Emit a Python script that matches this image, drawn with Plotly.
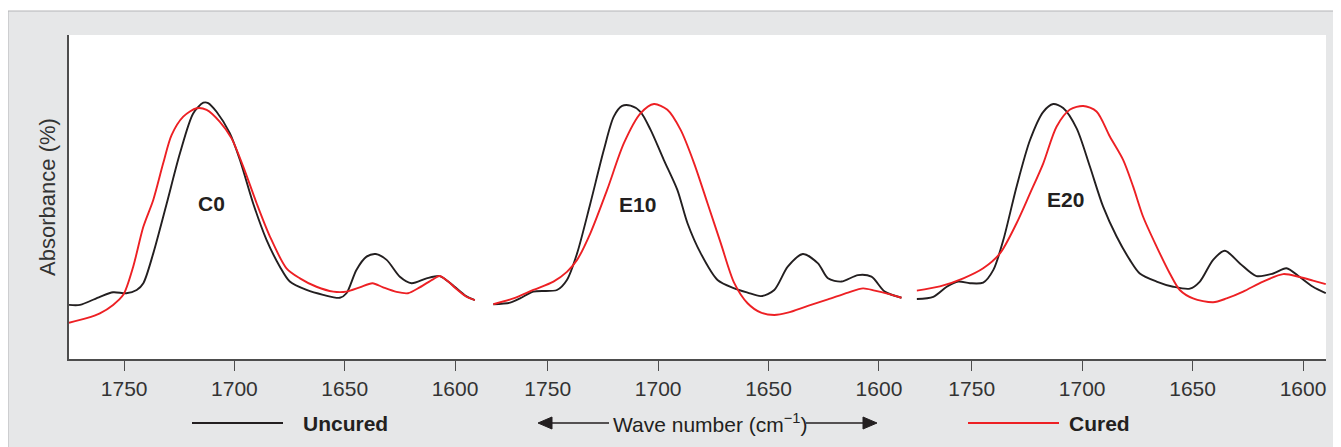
import plotly.graph_objects as go

# ---------------- data ----------------
# C0
c0_uncured_wn = [1775, 1770, 1761, 1755, 1749, 1744.3, 1741.3, 1736.8, 1730.7, 1724.7, 1718.7, 1714.1, 1711.9,
                 1708.1, 1702.1, 1697.5, 1691.5, 1685.4, 1679.4, 1674.9, 1667.3, 1659.8, 1652.2, 1649.2, 1644.7,
                 1640.1, 1635.9, 1631.0, 1625.0, 1619.7, 1612.9, 1606.9, 1603.1, 1600, 1595, 1591]
c0_uncured_abs = [16.7, 16.7, 19.2, 20.6, 20.3, 21.3, 23.4, 32.6, 48.0, 63.5, 75.8, 79.1, 79.0,
                  76.3, 69.7, 61.4, 48.0, 36.7, 28.5, 23.9, 21.3, 19.8, 18.9, 20.3, 27.5,
                  31.6, 32.4, 30.6, 25.4, 23.4, 24.9, 25.6, 23.9, 22.2, 19.4, 18.2]
c0_cured_wn = [1775, 1767, 1761, 1755, 1750.4, 1745.9, 1741.3, 1736.8, 1732.3, 1728.5, 1723.2, 1717.1, 1712.6,
               1706.6, 1701.3, 1696.0, 1689.9, 1683.9, 1676.4, 1670.3, 1662.8, 1655.2, 1649.2, 1643.2, 1637.4,
               1632.6, 1626.5, 1621.3, 1616.0, 1610.0, 1607, 1603.1, 1600, 1595, 1591]
c0_cured_abs = [11.2, 12.6, 14.1, 16.7, 19.8, 28.5, 40.8, 49.1, 60.4, 69.1, 74.8, 77.4, 76.9,
                73.2, 68.1, 59.4, 48.0, 37.8, 28.0, 24.9, 22.3, 20.8, 20.8, 22.1, 23.4,
                22.1, 20.7, 20.3, 22.1, 24.6, 25.6, 23.9, 22.0, 19.3, 18.2]

# E10
e10_uncured_wn = [1774.6, 1767, 1762.5, 1756.5, 1745.8, 1741.3, 1736.7, 1730.7, 1724.6, 1720.1, 1716.3, 1712.5,
                  1708.0, 1703.4, 1697.4, 1691.3, 1686.7, 1680.7, 1673.1, 1665.5, 1659.5, 1653.4, 1647.4, 1641.3,
                  1634.5, 1627.6, 1623.1, 1617, 1609.5, 1603.4, 1597.4, 1589.8]
e10_uncured_abs = [16.9, 17.4, 18.7, 20.8, 21.3, 24.4, 32.6, 48.0, 64.5, 74.8, 78.1, 78.2,
                   76.3, 70.7, 61.4, 52.2, 41.9, 32.6, 24.4, 21.8, 20.5, 19.4, 21.3, 28.5,
                   32.4, 29.5, 24.9, 23.9, 25.9, 25.4, 20.8, 18.9]
e10_cured_wn = [1774.6, 1765.5, 1756.5, 1747.4, 1741.3, 1736.7, 1730.7, 1723.1, 1715.5, 1708, 1701.9, 1695.8,
                1689.8, 1683.7, 1677.6, 1671.6, 1665.5, 1659.5, 1653.4, 1647.4, 1641.3, 1632.2, 1623.1, 1614.0,
                1607.2, 1601.9, 1595.8, 1589.8]
e10_cured_abs = [16.9, 18.7, 21.3, 23.9, 26.9, 30.6, 38.8, 52.2, 66.6, 75.8, 78.7, 76.9,
                 70.7, 60.4, 48.0, 35.7, 23.4, 17.2, 14.3, 13.6, 14.3, 16.4, 18.4, 20.5,
                 21.8, 21.1, 20.1, 18.9]

# E20
e20_uncured_wn = [1774.9, 1767.4, 1761.3, 1756.1, 1750.8, 1744.8, 1740.2, 1735.7, 1729.7, 1723.6, 1717.6, 1713.1,
                  1708.6, 1702.5, 1696.5, 1690.5, 1684.4, 1678.4, 1673.9, 1666.3, 1658.8, 1651.2, 1646.7, 1640.7,
                  1635.4, 1628.6, 1621.1, 1613.5, 1607.5, 1601.5, 1595.5, 1589.7]
e20_uncured_abs = [18.5, 19.2, 22.3, 23.9, 23.4, 23.6, 27.5, 36.7, 53.2, 67.6, 76.3, 78.7,
                   77.5, 71.2, 59.4, 47.0, 37.8, 30.6, 26.4, 23.9, 22.3, 21.7, 23.9, 30.6,
                   33.4, 29.5, 25.6, 26.4, 28.0, 25.3, 22.3, 20.3]
e20_cured_wn = [1774.9, 1764.4, 1753.8, 1744.8, 1737.2, 1729.7, 1723.6, 1717.6, 1711.6, 1705.5, 1699.5, 1693.5,
                1687.4, 1681.4, 1676.9, 1672.4, 1666.3, 1660.3, 1655.8, 1649.8, 1640.7, 1634.6, 1627.1, 1618.1,
                1609.0, 1601.5, 1595.5, 1589.7]
e20_cured_abs = [21.1, 22.4, 24.9, 28.0, 32.6, 41.9, 51.1, 60.4, 71.7, 77.0, 78.1, 76.4,
                 68.6, 61.4, 53.2, 43.9, 34.7, 26.4, 21.3, 18.7, 17.5, 18.7, 20.8, 23.9,
                 26.2, 25.3, 24.2, 23.1]

panel_labels = ["C0", "E10", "E20"]
label_wn = [1710.2, 1709.3, 1707.4]
label_abs = [48.1, 47.8, 49.1]
tick_vals = [1750, 1700, 1650, 1600]
tick_text = ["1750", "1700", "1650", "1600"]
series_names = ["Uncured", "Cured"]

# ---------------- styling ----------------
# the page body has an 8px margin, so the figure is made 8px smaller and
# all screen coordinates below are expressed in window pixels
OFF = 8
SW, SH = 1341, 447
L, R, T, B = 69, 15, 35, 88          # plot area in window px: x 69..1326, y 35..359
PW, PH = SW - L - R, SH - T - B
BLACK = "#231f20"
RED = "#ed2024"
AXIS = "#4d4d4d"
TXT = "#333333"
FONT = "Liberation Sans, Arial, sans-serif"
FS = 21


def px(x):
    return (x - L) / PW


def py(y):
    return (SH - B - y) / PH


domains = [[0, px(492.5)], [px(492.5), px(916.5)], [px(916.5), 1]]
ranges = [[1775, 1583], [1775, 1583], [1775, 1589.6]]

panels = [
    (c0_uncured_wn, c0_uncured_abs, c0_cured_wn, c0_cured_abs),
    (e10_uncured_wn, e10_uncured_abs, e10_cured_wn, e10_cured_abs),
    (e20_uncured_wn, e20_uncured_abs, e20_cured_wn, e20_cured_abs),
]

fig = go.Figure()
for i, (uw, ua, cw, ca) in enumerate(panels):
    xa = "x" if i == 0 else f"x{i + 1}"
    fig.add_trace(go.Scatter(x=uw, y=ua, mode="lines", name=series_names[0], xaxis=xa, yaxis="y",
                             line=dict(color=BLACK, width=1.9, shape="spline", smoothing=0.8),
                             showlegend=False))
    fig.add_trace(go.Scatter(x=cw, y=ca, mode="lines", name=series_names[1], xaxis=xa, yaxis="y",
                             line=dict(color=RED, width=1.9, shape="spline", smoothing=0.8),
                             showlegend=False))

axis_common = dict(
    showline=True, linecolor=AXIS, linewidth=1.6, showgrid=False, zeroline=False,
    ticks="outside", ticklen=10, tickwidth=1.4, tickcolor=AXIS,
    tickvals=tick_vals, ticktext=tick_text,
    tickfont=dict(family=FONT, size=FS, color=TXT),
    fixedrange=True,
)
layout_axes = {}
for i in range(3):
    key = "xaxis" if i == 0 else f"xaxis{i + 1}"
    layout_axes[key] = dict(axis_common, domain=domains[i], range=ranges[i], anchor="y")

fig.update_layout(
    width=SW - OFF, height=SH - OFF,
    margin=dict(l=L - OFF, r=R, t=T - OFF, b=B, pad=0),
    paper_bgcolor="white", plot_bgcolor="rgba(0,0,0,0)",
    showlegend=False,
    font=dict(family=FONT, color=BLACK),
    yaxis=dict(range=[0, 100], showline=True, linecolor=AXIS, linewidth=1.6, showgrid=False,
               zeroline=False, showticklabels=False, ticks="", fixedrange=True,
               title=dict(text="Absorbance (%)", standoff=6,
                          font=dict(family=FONT, size=22, color=TXT))),
    **layout_axes,
)

# background frame and white plotting area
fig.add_shape(type="rect", xref="paper", yref="paper", x0=px(8), x1=px(1360), y0=py(460), y1=py(11),
              fillcolor="#e6e7e8", line=dict(color="#b4b5b7", width=1), layer="below")
fig.add_shape(type="rect", xref="paper", yref="paper", x0=0, x1=1, y0=0, y1=1,
              fillcolor="white", line=dict(width=0), layer="below")

# panel labels
for i, lab in enumerate(panel_labels):
    xa = "x" if i == 0 else f"x{i + 1}"
    fig.add_annotation(x=label_wn[i], y=label_abs[i], xref=xa, yref="y", text=f"<b>{lab}</b>",
                       showarrow=False, font=dict(family=FONT, size=FS, color=BLACK))

# bottom key
KY = 423
ky = py(KY)
fig.add_shape(type="line", xref="paper", yref="paper", x0=px(192), x1=px(283), y0=ky, y1=ky,
              line=dict(color=BLACK, width=2))
fig.add_annotation(x=px(301), y=ky, xref="paper", yref="paper", text=f"<b>{series_names[0]}</b>",
                   showarrow=False, xanchor="left", yanchor="middle",
                   font=dict(family=FONT, size=FS, color=BLACK))
fig.add_shape(type="line", xref="paper", yref="paper", x0=px(968), x1=px(1059), y0=ky, y1=ky,
              line=dict(color=RED, width=2))
fig.add_annotation(x=px(1067), y=ky, xref="paper", yref="paper", text=f"<b>{series_names[1]}</b>",
                   showarrow=False, xanchor="left", yanchor="middle",
                   font=dict(family=FONT, size=FS, color=BLACK))
fig.add_annotation(x=px(711), y=ky, xref="paper", yref="paper",
                   text="Wave number (cm<sup>\u22121</sup>)", showarrow=False,
                   xanchor="center", yanchor="middle",
                   font=dict(family=FONT, size=FS, color=BLACK))
# arrows (shaft + filled head)
fig.add_shape(type="line", xref="paper", yref="paper", x0=px(550), x1=px(609), y0=ky, y1=ky,
              line=dict(color=BLACK, width=1.6))
fig.add_shape(type="path", xref="paper", yref="paper",
              path=f"M {px(538)},{ky} L {px(552)},{py(KY - 6)} L {px(552)},{py(KY + 6)} Z",
              fillcolor=BLACK, line=dict(color=BLACK, width=1))
fig.add_shape(type="line", xref="paper", yref="paper", x0=px(806), x1=px(865), y0=ky, y1=ky,
              line=dict(color=BLACK, width=1.6))
fig.add_shape(type="path", xref="paper", yref="paper",
              path=f"M {px(877)},{ky} L {px(863)},{py(KY - 6)} L {px(863)},{py(KY + 6)} Z",
              fillcolor=BLACK, line=dict(color=BLACK, width=1))

fig.write_html("out.html")
